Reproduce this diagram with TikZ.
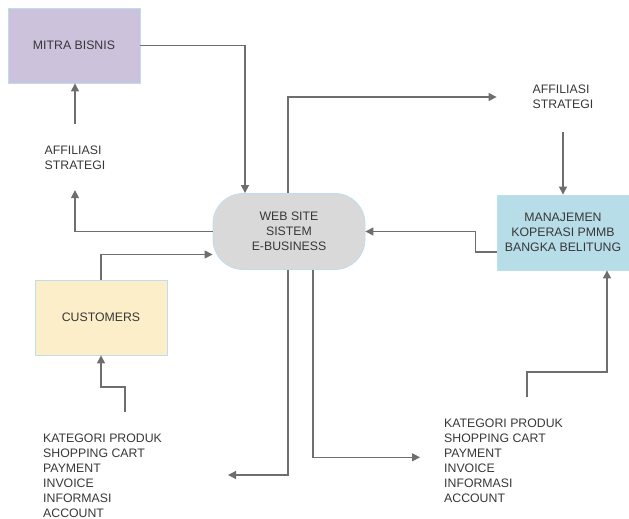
\documentclass[tikz,border=0pt]{standalone}
\usepackage{fontspec}
\setmainfont{Liberation Sans}
\usetikzlibrary{arrows.meta, calc, positioning}

\definecolor{lavbox}{RGB}{205,194,220}
\definecolor{creambox}{RGB}{252,238,201}
\definecolor{bluebox}{RGB}{183,221,232}
\definecolor{webgray}{RGB}{217,217,217}
\definecolor{edgeblue}{RGB}{190,222,240}
\definecolor{linegray}{RGB}{110,110,110}
\definecolor{txtgray}{RGB}{55,55,55}

\tikzset{
  entity/.style={draw=edgeblue, line width=0.8pt, minimum width=132pt, minimum height=75pt,
    align=center, inner sep=2pt},
  label/.style={align=left, inner sep=0pt},
  flow/.style={->, draw=linegray, line width=1.2pt}
}

\begin{document}
\begin{tikzpicture}[x=1pt, y=-1pt, >={Triangle[length=8pt,width=8pt]},
    font=\fontsize{12.3}{15.1}\selectfont, text=txtgray]

        \useasboundingbox (0,0) rectangle (629,519);

        % entities
        \node[entity, fill=lavbox] (mitra) at (74,45.5) {MITRA BISNIS};
        \node[entity, fill=creambox] (cust) at (101,317.5) {CUSTOMERS};
        \node[entity, fill=bluebox] (maj) at (563,232.5) {MANAJEMEN\\KOPERASI PMMB\\BANGKA BELITUNG};
        \node[draw=edgeblue, line width=0.8pt, fill=webgray, rounded corners=30pt,
              minimum width=152pt, minimum height=76pt, align=center] (web) at (289,231.5)
              {WEB SITE\\SISTEM\\E-BUSINESS};

        % labels
        \node[label] (affl) at (75,158) {AFFILIASI\\STRATEGI};
        \node[label] (affr) at (563,97) {AFFILIASI\\STRATEGI};
        \node[label, anchor=north west] (listl) at (43,433.5) {KATEGORI PRODUK\\SHOPPING CART\\PAYMENT\\INVOICE\\INFORMASI\\ACCOUNT};
        \node[label, anchor=north west] (listr) at (444,418.5) {KATEGORI PRODUK\\SHOPPING CART\\PAYMENT\\INVOICE\\INFORMASI\\ACCOUNT};

        \coordinate (cin) at (125,412);
        \coordinate (rin) at (527,397);
        \coordinate (lout) at (228,475);

        % flows
        \draw[flow] (mitra.east) -| ([xshift=-44pt]web.north);
        \draw[flow] ([xshift=-1pt]web.north) |- (affr.west -| maj.west);
        \draw[flow] ([yshift=-23pt]affr.south) -- (maj.north);
        \draw[flow] ([yshift=-19.5pt]maj.west) -- ++(-21,0) |- (web.east);
        \draw[flow] (web.west) -| ([yshift=-20pt]affl.south);
        \draw[flow] ([yshift=22pt]affl.north) -- (affl.north |- mitra.south);
        \draw[flow] (cust.north) |- ([yshift=-23pt]web.west);
        \draw[flow] (cin) -- ++(0,-25) -| (cust.south);
        \draw[flow] ([xshift=-1pt]web.south) |- (lout);
        \draw[flow] ([xshift=24pt]web.south) |- ([xshift=-24pt, yshift=3.5pt]listr.west);
        \draw[flow] (rin) -- ++(0,-25) -| ([xshift=44pt]maj.south);

\end{tikzpicture}
\end{document}
